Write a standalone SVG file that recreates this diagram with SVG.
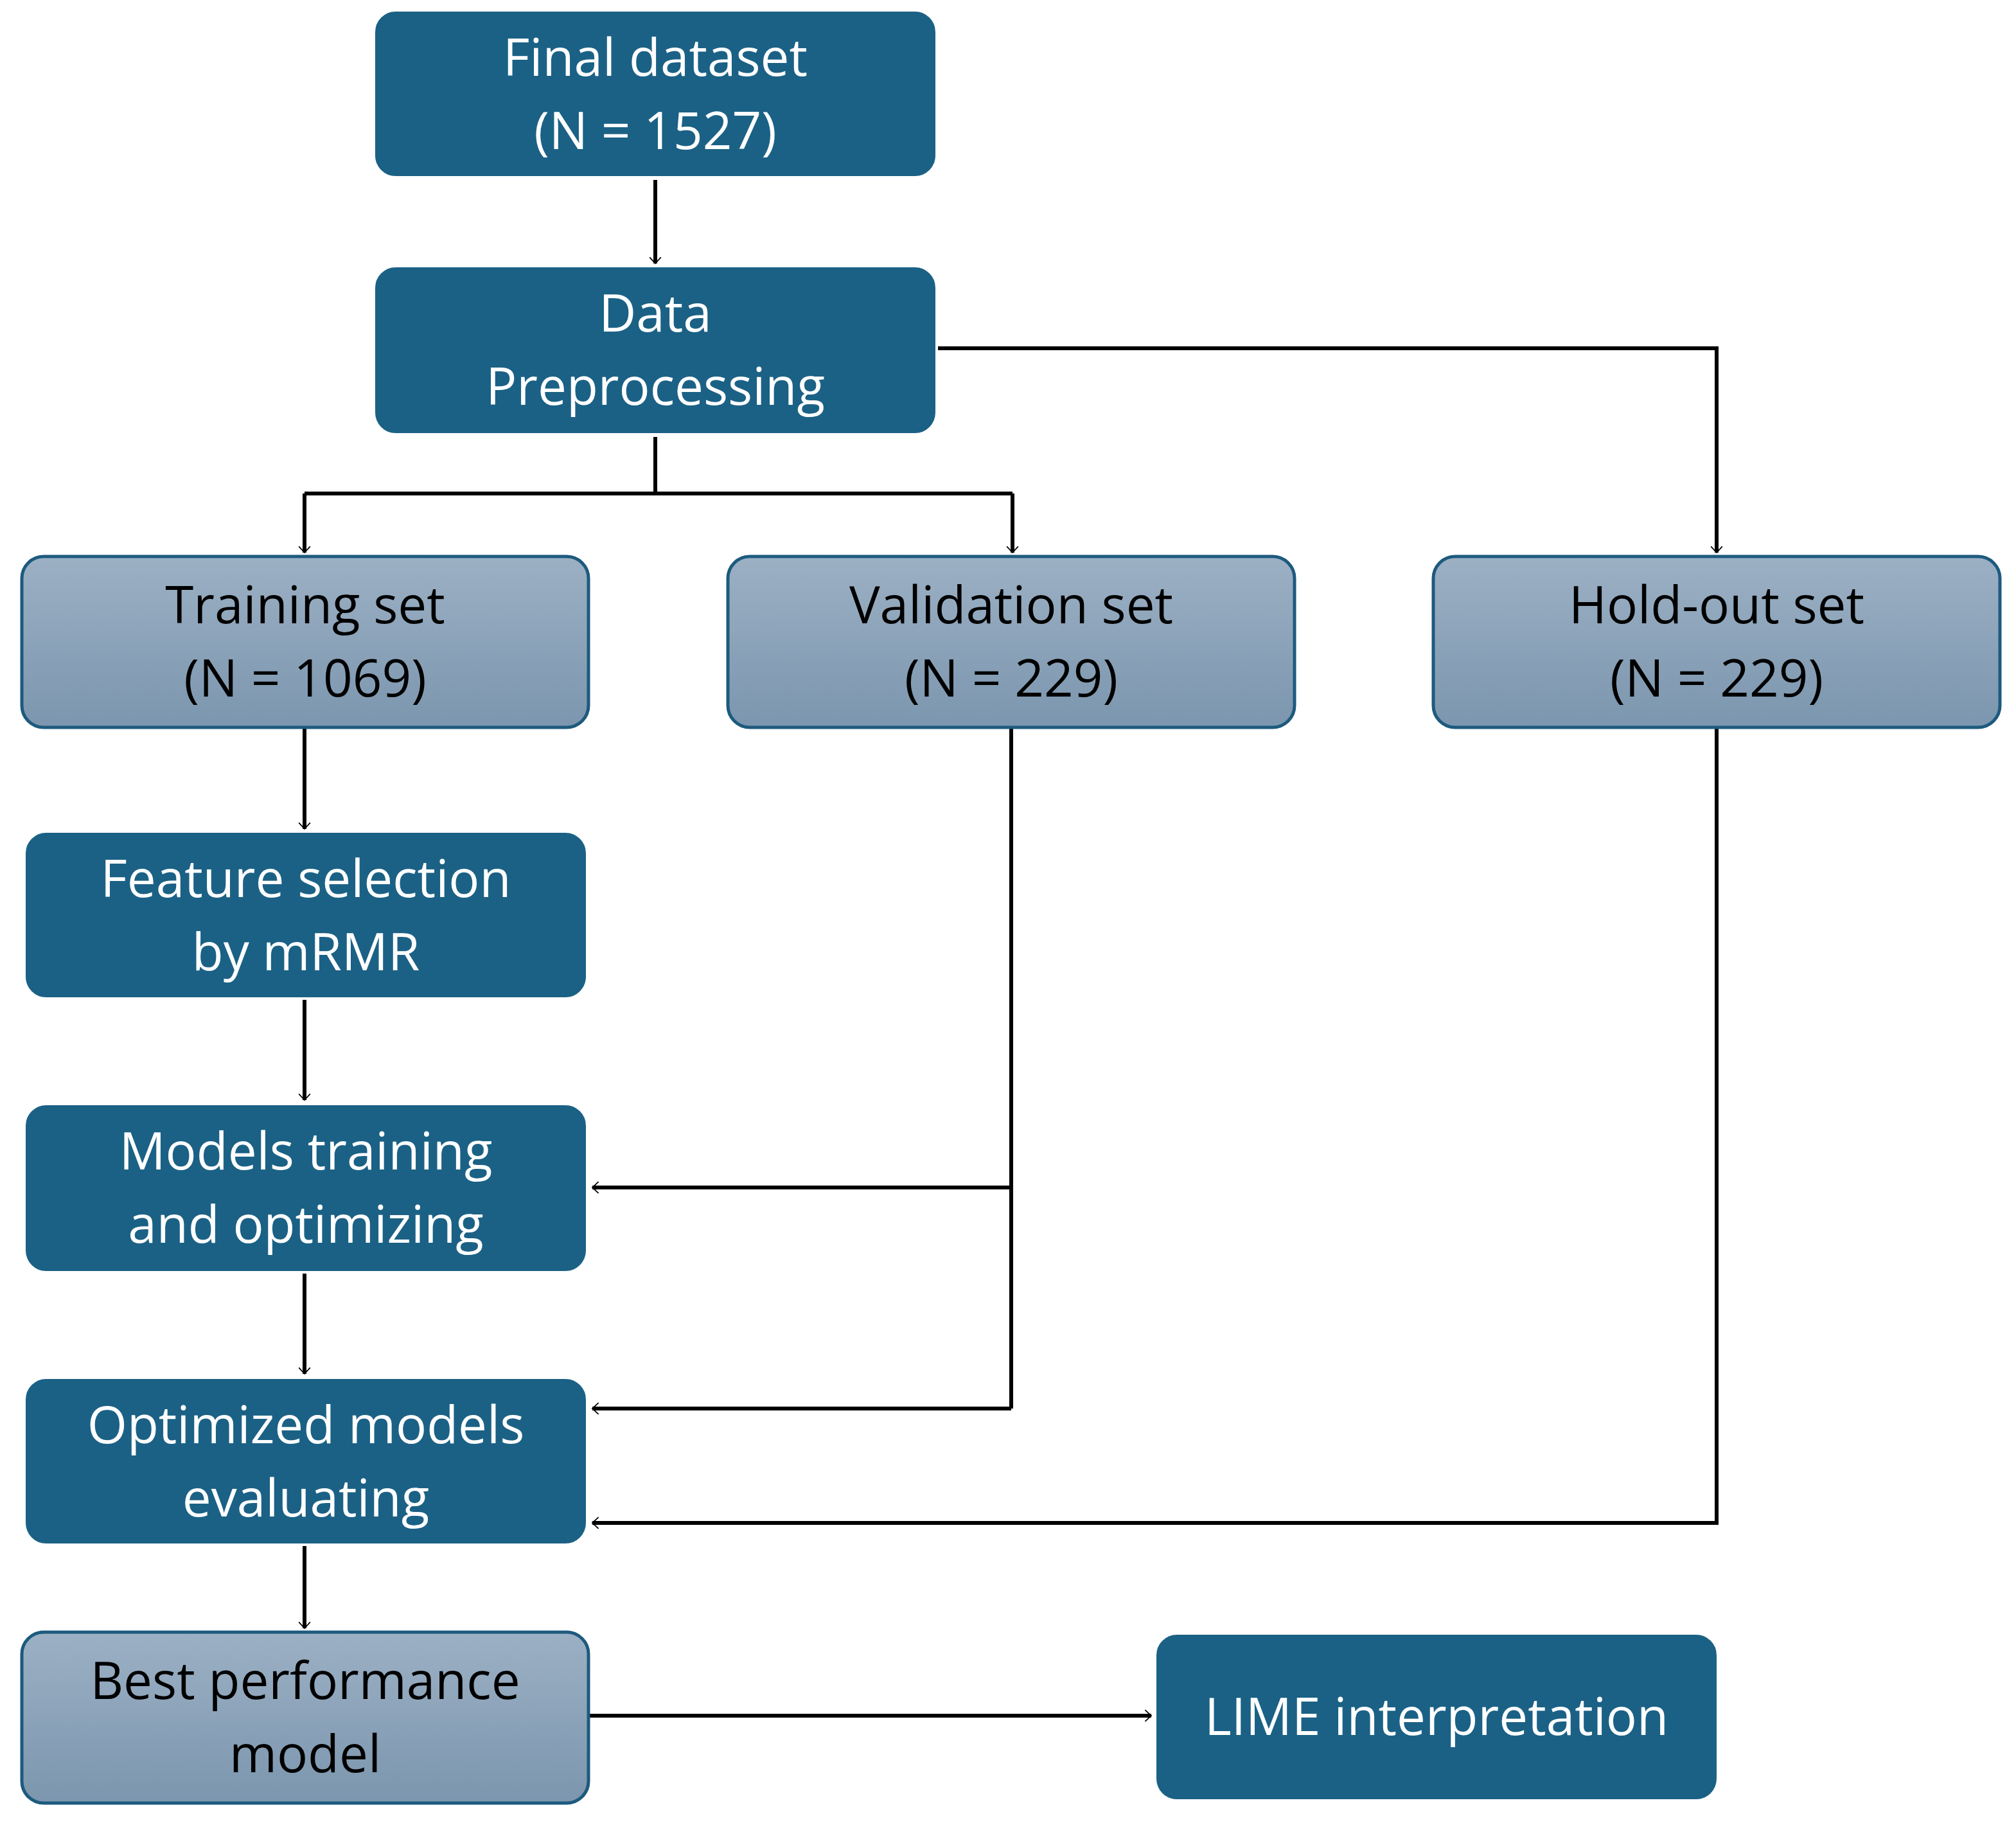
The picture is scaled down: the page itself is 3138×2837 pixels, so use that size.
<svg xmlns="http://www.w3.org/2000/svg" width="3138" height="2837" viewBox="0 0 3138 2837">
<style>
.d{fill:#1b6185;stroke:#1b6185;stroke-width:4}
.l{fill:url(#g);stroke:#1d5a7e;stroke-width:5}
text{font-family:"Open Sans","Liberation Sans",sans-serif;font-size:80px;text-anchor:middle}
.w{fill:#fff}.k{fill:#000}
.c{fill:none;stroke:#000;stroke-width:6;marker-end:url(#a)}
.n{fill:none;stroke:#000;stroke-width:6}
</style>
<defs>
<linearGradient id="g" x1="0" y1="0" x2="0" y2="1"><stop offset="0" stop-color="#9cb0c4"/><stop offset="1" stop-color="#7b96ae"/></linearGradient>
<marker id="a" viewBox="0 0 20 20" refX="18" refY="10" markerWidth="8" markerHeight="8" markerUnits="userSpaceOnUse" orient="auto" style="overflow:visible"><path d="M-6,-12 L18,10 L-6,32" fill="none" stroke="#000" stroke-width="4.5"/></marker>
</defs>
<rect width="3138" height="2837" fill="#fff"/>
<g id="connectors">
<path class="c" d="M1020,280 V410"/>
<path class="c" d="M1460,542 H2672 V860"/>
<path class="n" d="M1020,680 V768 M474,768 H1576"/>
<path class="c" d="M474,768 V860"/>
<path class="c" d="M1576,768 V860"/>
<path class="c" d="M474,1134 V1290"/>
<path class="c" d="M474,1556 V1712"/>
<path class="c" d="M474,1982 V2138"/>
<path class="c" d="M474,2406 V2534"/>
<path class="n" d="M1574,1134 V2192"/>
<path class="c" d="M1574,1848 H922"/>
<path class="c" d="M1574,2192 H922"/>
<path class="c" d="M2672,1134 V2370 H922"/>
<path class="c" d="M918,2670 H1792"/>
</g>
<g id="final"><rect class="d" x="586" y="20" width="868" height="252" rx="30"/><text class="w" x="1020" y="118">Final dataset</text><text class="w" x="1020" y="232">(N = 1527)</text></g>
<g id="prep"><rect class="d" x="586" y="418" width="868" height="254" rx="30"/><text class="w" x="1020" y="516">Data</text><text class="w" x="1020" y="630">Preprocessing</text></g>
<g id="train"><rect class="l" x="34" y="866" width="882" height="266" rx="34"/><text class="k" x="475" y="970">Training set</text><text class="k" x="475" y="1084">(N = 1069)</text></g>
<g id="val"><rect class="l" x="1133" y="866" width="882" height="266" rx="34"/><text class="k" x="1574" y="970">Validation set</text><text class="k" x="1574" y="1084">(N = 229)</text></g>
<g id="hold"><rect class="l" x="2231" y="866" width="882" height="266" rx="34"/><text class="k" x="2672" y="970">Hold-out set</text><text class="k" x="2672" y="1084">(N = 229)</text></g>
<g id="feat"><rect class="d" x="42" y="1298" width="868" height="252" rx="30"/><text class="w" x="476" y="1396">Feature selection</text><text class="w" x="476" y="1510">by mRMR</text></g>
<g id="models"><rect class="d" x="42" y="1722" width="868" height="254" rx="30"/><text class="w" x="476" y="1820">Models training</text><text class="w" x="476" y="1934">and optimizing</text></g>
<g id="opt"><rect class="d" x="42" y="2148" width="868" height="252" rx="30"/><text class="w" x="476" y="2246">Optimized models</text><text class="w" x="476" y="2360">evaluating</text></g>
<g id="best"><rect class="l" x="34" y="2540" width="882" height="266" rx="34"/><text class="k" x="475" y="2644">Best performance</text><text class="k" x="475" y="2758">model</text></g>
<g id="lime"><rect class="d" x="1802" y="2546" width="868" height="252" rx="30"/><text class="w" x="2236" y="2700">LIME interpretation</text></g>
</svg>
